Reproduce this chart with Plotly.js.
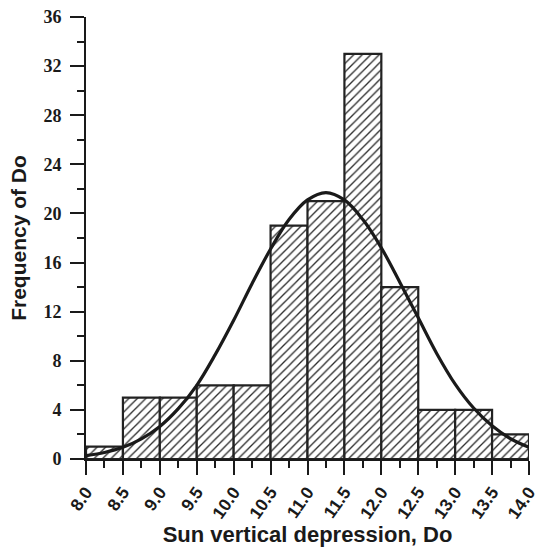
<!DOCTYPE html>
<html>
<head>
<meta charset="utf-8">
<script src="https://cdn.plot.ly/plotly-3.0.1.min.js"></script>
<style>html,body{margin:0;padding:0;background:#fff;}#chart{width:537px;height:547px;}</style>
</head>
<body>
<div id="chart"></div>
<script>
// Histogram bins (left edges) and counts
var binStarts = [8.0, 8.5, 9.0, 9.5, 10.0, 10.5, 11.0, 11.5, 12.0, 12.5, 13.0, 13.5];
var binWidth = 0.5;
var counts = [1, 5, 5, 6, 6, 19, 21, 33, 14, 4, 4, 2];

// Fitted curve
var curveX = [8.0, 8.25, 8.5, 8.75, 9.0, 9.25, 9.5, 9.75, 10.0, 10.25, 10.5, 10.75, 11.0,
              11.25, 11.5, 11.75, 12.0, 12.25, 12.5, 12.75, 13.0, 13.25, 13.5, 13.75, 14.0];
var curveY = [0.28, 0.53, 0.95, 1.64, 2.65, 4.1, 6.0, 8.5, 11.3, 14.3, 17.1, 19.5, 21.1,
              21.7, 21.1, 19.5, 17.2, 14.4, 11.5, 8.6, 6.1, 4.15, 2.7, 1.65, 0.95];

var xTickVals = [8.0, 8.5, 9.0, 9.5, 10.0, 10.5, 11.0, 11.5, 12.0, 12.5, 13.0, 13.5, 14.0];
var xTickText = ["8.0", "8.5", "9.0", "9.5", "10.0", "10.5", "11.0", "11.5", "12.0", "12.5", "13.0", "13.5", "14.0"];
var yTickVals = [0, 4, 8, 12, 16, 20, 24, 28, 32, 36];
var yTickText = ["0", "4", "8", "12", "16", "20", "24", "28", "32", "36"];

var xTitle = "Sun vertical depression, Do";
var yTitle = "Frequency of Do";

var barCenters = binStarts.map(function (s) { return s + binWidth / 2; });
var bold = function (t) { return "<b>" + t + "</b>"; };

var traces = [
  {
    type: "bar",
    x: barCenters,
    y: counts,
    width: binWidth,
    marker: {
      color: "#ffffff",
      line: { color: "#222222", width: 2.2 },
      pattern: { shape: "/", fgcolor: "#2a2a2a", bgcolor: "#ffffff", size: 6, solidity: 0.22 }
    },
    hoverinfo: "skip",
    showlegend: false
  },
  {
    type: "scatter",
    mode: "lines",
    x: curveX,
    y: curveY,
    line: { color: "#1a1a1a", width: 3.2, shape: "spline" },
    hoverinfo: "skip",
    showlegend: false,
    cliponaxis: false
  }
];

var layout = {
  width: 537,
  height: 547,
  margin: { l: 86, r: 8, t: 17, b: 88 },
  paper_bgcolor: "#ffffff",
  plot_bgcolor: "#ffffff",
  bargap: 0,
  showlegend: false,
  xaxis: {
    range: [7.9999, 14.0001],
    showgrid: false,
    zeroline: false,
    showline: true,
    linecolor: "#1a1a1a",
    linewidth: 2,
    ticks: "outside",
    ticklen: 14,
    tickwidth: 2,
    tickcolor: "#1a1a1a",
    tickvals: xTickVals,
    ticktext: xTickText.map(bold),
    tickangle: -55,
    ticklabeloverflow: "allow",
    tickfont: { family: "Liberation Sans, Arial, sans-serif", size: 17.5, color: "#1a1a1a" },
    minor: { dtick: 0.25, tick0: 8, ticks: "outside", ticklen: 7, tickwidth: 2, tickcolor: "#1a1a1a", showgrid: false },
    title: {
      text: bold(xTitle),
      font: { family: "Liberation Sans, Arial, sans-serif", size: 22, color: "#1a1a1a" },
      standoff: 7
    },
    automargin: false
  },
  yaxis: {
    range: [0, 36],
    showgrid: false,
    zeroline: false,
    showline: true,
    linecolor: "#1a1a1a",
    linewidth: 2,
    ticks: "outside",
    ticklen: 14,
    tickwidth: 2,
    tickcolor: "#1a1a1a",
    tickvals: yTickVals,
    ticktext: yTickText.map(bold),
    ticklabelstandoff: 5,
    tickfont: { family: "Liberation Serif, Times New Roman, serif", size: 18, color: "#1a1a1a" },
    minor: { dtick: 2, tick0: 0, ticks: "outside", ticklen: 7, tickwidth: 2, tickcolor: "#1a1a1a", showgrid: false },
    title: {
      text: bold(yTitle),
      font: { family: "Liberation Sans, Arial, sans-serif", size: 21, color: "#1a1a1a" },
      standoff: 11
    },
    automargin: false
  }
};

Plotly.newPlot("chart", traces, layout, { staticPlot: true, displayModeBar: false });
</script>
</body>
</html>
